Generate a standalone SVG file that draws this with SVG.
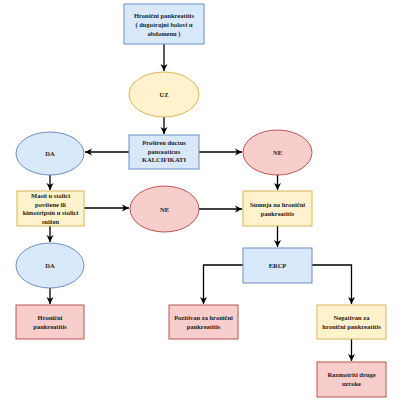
<svg xmlns="http://www.w3.org/2000/svg" width="411" height="405" viewBox="0 0 411 405">
<style>
.b{fill:#dae8fc;stroke:#6c8ebf;stroke-width:1}
.y{fill:#fff2cc;stroke:#d6b656;stroke-width:1}
.r{fill:#f8cecc;stroke:#b85450;stroke-width:1}
text{font-family:"Liberation Serif","Times New Roman",serif;font-size:6.5px;font-weight:bold;fill:#222;text-anchor:middle}
.c path{fill:none;stroke:#000;stroke-width:1.3}
</style>
<defs>
<marker id="a" markerWidth="8" markerHeight="8" refX="7" refY="4" orient="auto" markerUnits="userSpaceOnUse">
<path d="M0,0.5 L7,4 L0,7.5 L2,4 Z" fill="#000"/>
</marker>
</defs>
<rect width="411" height="405" fill="#fff"/>
<g class="c">
<path d="M164,44 V71" marker-end="url(#a)"/>
<path d="M164,117 V134" marker-end="url(#a)"/>
<path d="M129,152 H85" marker-end="url(#a)"/>
<path d="M199,152 H242" marker-end="url(#a)"/>
<path d="M50,175 V190" marker-end="url(#a)"/>
<path d="M84,208 H129" marker-end="url(#a)"/>
<path d="M199,209 H242" marker-end="url(#a)"/>
<path d="M277.5,175 V190" marker-end="url(#a)"/>
<path d="M277.5,226 V247" marker-end="url(#a)"/>
<path d="M50,226 V242" marker-end="url(#a)"/>
<path d="M50,288 V304" marker-end="url(#a)"/>
<path d="M243,265 H203.5 V304" marker-end="url(#a)"/>
<path d="M312,265 H351.5 V304" marker-end="url(#a)"/>
<path d="M351.5,339 V361" marker-end="url(#a)"/>
</g>
<g id="n1"><rect class="b" x="124" y="4" width="80" height="40"/>
<text x="164" y="18">Hronični pankreatitis</text><text x="164" y="27">( dugotrajni bolovi u</text><text x="164" y="36">abdomenu )</text></g>
<g id="n2"><ellipse class="y" cx="164" cy="94.5" rx="35" ry="22.5"/><text x="164" y="97">UZ</text></g>
<g id="n3"><rect class="b" x="129" y="135" width="70" height="34"/>
<text x="164" y="145">Proširen ductus</text><text x="164" y="153.5">panceaticus</text><text x="164" y="162">KALCIFIKATI</text></g>
<g id="n4"><ellipse class="b" cx="50" cy="153.5" rx="34" ry="21.5"/><text x="50" y="156">DA</text></g>
<g id="n5"><ellipse class="r" cx="277.5" cy="152.5" rx="34.5" ry="22.5"/><text x="277.5" y="155">NE</text></g>
<g id="n6"><rect class="y" x="17" y="191" width="67" height="35"/>
<text x="50.5" y="198">Masti u stolici</text><text x="50.5" y="206.5">povišene ili</text><text x="50.5" y="215">kimotripsin u stolici</text><text x="50.5" y="223.5">snižen</text></g>
<g id="n7"><ellipse class="r" cx="164.5" cy="209" rx="34.5" ry="23"/><text x="164.5" y="211.5">NE</text></g>
<g id="n8"><rect class="y" x="243" y="191" width="69" height="35"/>
<text x="277.5" y="207">Sumnja na hronični</text><text x="277.5" y="215.5">pankreatitis</text></g>
<g id="n9"><ellipse class="b" cx="50" cy="265.5" rx="34" ry="22.5"/><text x="50" y="268">DA</text></g>
<g id="n10"><rect class="b" x="243" y="248" width="69" height="35"/><text x="277.5" y="268">ERCP</text></g>
<g id="n11"><rect class="r" x="16" y="305" width="68" height="34"/>
<text x="50" y="320">Hronični</text><text x="50" y="328.5">pankreatitis</text></g>
<g id="n12"><rect class="r" x="169" y="305" width="69" height="34"/>
<text x="203.5" y="320">Pozitivan za hronični</text><text x="203.5" y="328.5">pankreatitis</text></g>
<g id="n13"><rect class="y" x="317" y="305" width="69" height="34"/>
<text x="351.5" y="320">Negativan za</text><text x="351.5" y="328.5">hronični pankreatitis</text></g>
<g id="n14"><rect class="r" x="317" y="362" width="69" height="35"/>
<text x="351.5" y="377">Razmotriti druge</text><text x="351.5" y="385.5">uzroke</text></g>
</svg>
